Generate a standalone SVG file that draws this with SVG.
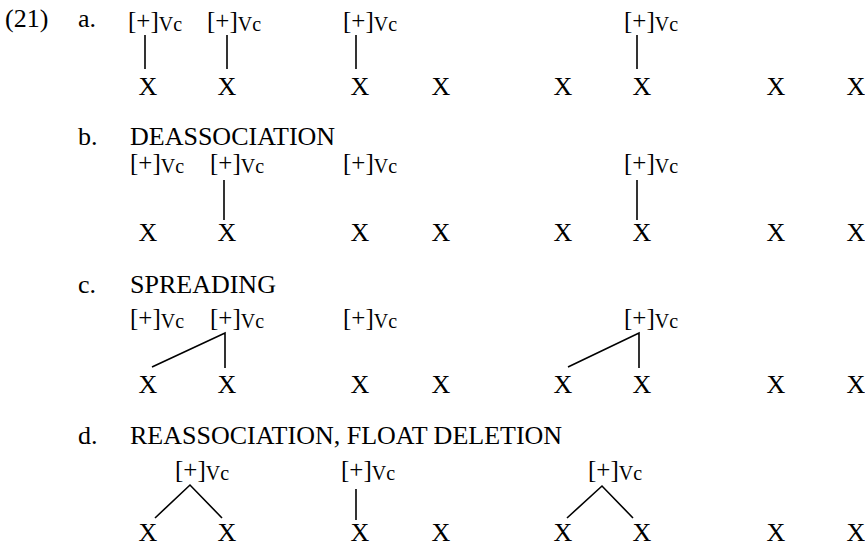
<svg xmlns="http://www.w3.org/2000/svg" width="865" height="547" viewBox="0 0 865 547">
  <style>
    text { font-family: "Liberation Serif", "Times New Roman", serif; fill: #000; }
    .t { font-size: 26px; }
    .lab { font-size: 25px; }
    .sub { font-size: 20px; }
    .x { font-size: 26px; text-anchor: middle; }
    .ln { stroke: #000; stroke-width: 1.6; fill: none; stroke-linecap: butt; }
  </style>
  <rect width="865" height="547" fill="#fff"/>

  <!-- example number and sub-example headings -->
  <g id="headings">
    <text class="t" x="5" y="27">(21)</text>
    <text class="t" x="78" y="27">a.</text>
    <text class="t" x="78" y="145">b.</text>
    <text class="t" x="130" y="145">DEASSOCIATION</text>
    <text class="t" x="78" y="293">c.</text>
    <text class="t" x="130" y="293">SPREADING</text>
    <text class="t" x="78" y="444">d.</text>
    <text class="t" x="130" y="444">REASSOCIATION, FLOAT DELETION</text>
  </g>

  <!-- (a) -->
  <g id="a-f1"><text class="lab" x="128" y="29">[+]<tspan class="sub" dy="2">Vc</tspan></text></g>
  <g id="a-f2"><text class="lab" x="207" y="29">[+]<tspan class="sub" dy="2">Vc</tspan></text></g>
  <g id="a-f3"><text class="lab" x="343" y="29">[+]<tspan class="sub" dy="2">Vc</tspan></text></g>
  <g id="a-f4"><text class="lab" x="624" y="29">[+]<tspan class="sub" dy="2">Vc</tspan></text></g>
  <g id="a-slots">
    <text class="x" x="148" y="95">X</text>
    <text class="x" x="227" y="95">X</text>
    <text class="x" x="360" y="95">X</text>
    <text class="x" x="441" y="95">X</text>
    <text class="x" x="563" y="95">X</text>
    <text class="x" x="642" y="95">X</text>
    <text class="x" x="776" y="95">X</text>
    <text class="x" x="856" y="95">X</text>
  </g>

  <!-- (b) -->
  <g id="b-f1"><text class="lab" x="130" y="171">[+]<tspan class="sub" dy="2">Vc</tspan></text></g>
  <g id="b-f2"><text class="lab" x="210" y="171">[+]<tspan class="sub" dy="2">Vc</tspan></text></g>
  <g id="b-f3"><text class="lab" x="343" y="171">[+]<tspan class="sub" dy="2">Vc</tspan></text></g>
  <g id="b-f4"><text class="lab" x="624" y="171">[+]<tspan class="sub" dy="2">Vc</tspan></text></g>
  <g id="b-slots">
    <text class="x" x="148" y="241">X</text>
    <text class="x" x="227" y="241">X</text>
    <text class="x" x="360" y="241">X</text>
    <text class="x" x="441" y="241">X</text>
    <text class="x" x="563" y="241">X</text>
    <text class="x" x="642" y="241">X</text>
    <text class="x" x="776" y="241">X</text>
    <text class="x" x="856" y="241">X</text>
  </g>

  <!-- (c) -->
  <g id="c-f1"><text class="lab" x="130" y="326">[+]<tspan class="sub" dy="2">Vc</tspan></text></g>
  <g id="c-f2"><text class="lab" x="210" y="326">[+]<tspan class="sub" dy="2">Vc</tspan></text></g>
  <g id="c-f3"><text class="lab" x="343" y="326">[+]<tspan class="sub" dy="2">Vc</tspan></text></g>
  <g id="c-f4"><text class="lab" x="624" y="326">[+]<tspan class="sub" dy="2">Vc</tspan></text></g>
  <g id="c-slots">
    <text class="x" x="148" y="393">X</text>
    <text class="x" x="227" y="393">X</text>
    <text class="x" x="360" y="393">X</text>
    <text class="x" x="441" y="393">X</text>
    <text class="x" x="563" y="393">X</text>
    <text class="x" x="642" y="393">X</text>
    <text class="x" x="776" y="393">X</text>
    <text class="x" x="856" y="393">X</text>
  </g>

  <!-- (d) -->
  <g id="d-f1"><text class="lab" x="175" y="478">[+]<tspan class="sub" dy="2">Vc</tspan></text></g>
  <g id="d-f2"><text class="lab" x="341" y="478">[+]<tspan class="sub" dy="2">Vc</tspan></text></g>
  <g id="d-f3"><text class="lab" x="588" y="478">[+]<tspan class="sub" dy="2">Vc</tspan></text></g>
  <g id="d-slots">
    <text class="x" x="148" y="541">X</text>
    <text class="x" x="227" y="541">X</text>
    <text class="x" x="360" y="541">X</text>
    <text class="x" x="441" y="541">X</text>
    <text class="x" x="563" y="541">X</text>
    <text class="x" x="642" y="541">X</text>
    <text class="x" x="776" y="541">X</text>
    <text class="x" x="856" y="541">X</text>
  </g>

  <!-- association lines -->
  <g id="connectors" class="ln">
    <!-- (a) -->
    <line x1="145" y1="35" x2="145" y2="69"/>
    <line x1="227" y1="35" x2="227" y2="69"/>
    <line x1="356" y1="35" x2="356" y2="69"/>
    <line x1="637" y1="35" x2="637" y2="69"/>
    <!-- (b) -->
    <line x1="224" y1="180" x2="224" y2="220"/>
    <line x1="637" y1="180" x2="637" y2="220"/>
    <!-- (c) -->
    <polyline points="152,367 225,333 225,368"/>
    <polyline points="568,367 639,333 639,368"/>
    <!-- (d) -->
    <polyline points="155,518 190,485 222,518"/>
    <line x1="356" y1="489" x2="356" y2="520"/>
    <polyline points="567,518 602,486 633,518"/>
  </g>
</svg>
